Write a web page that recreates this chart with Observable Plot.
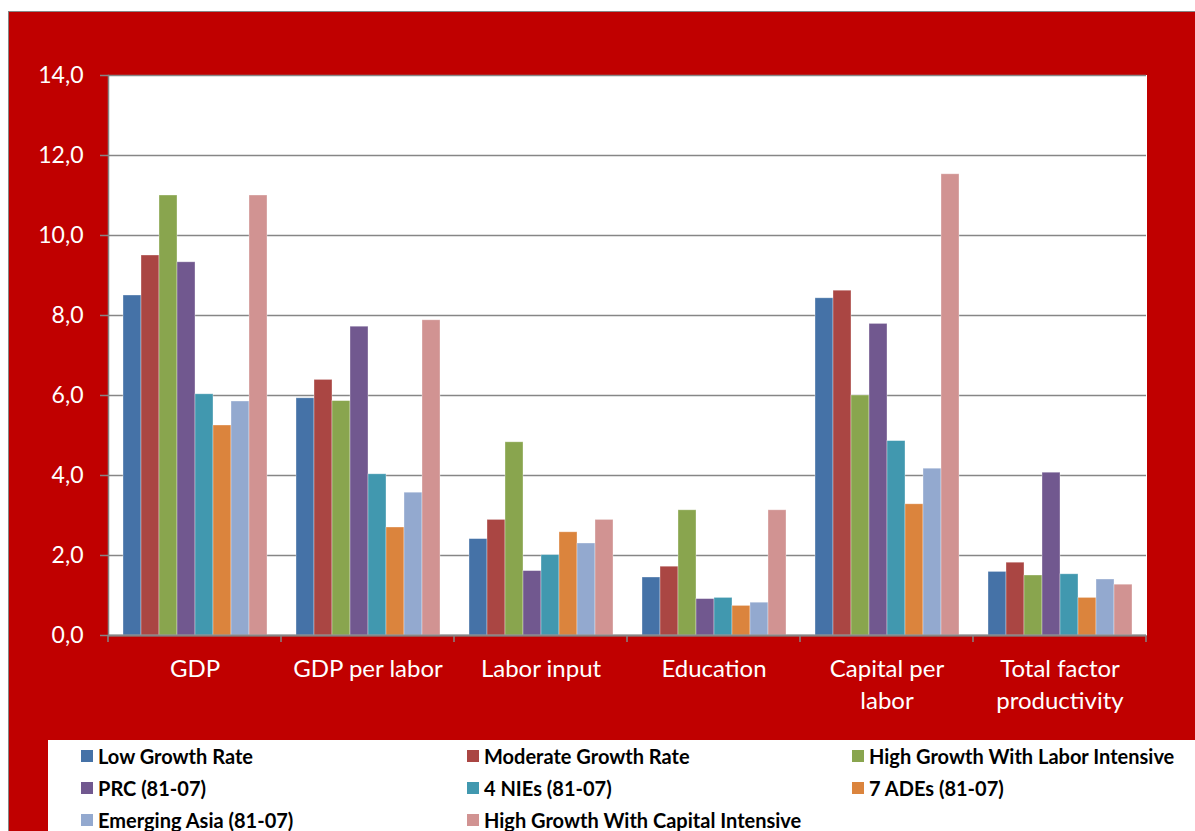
<!DOCTYPE html>
<html>
<head>
<meta charset="utf-8">
<script src="https://cdn.jsdelivr.net/npm/d3@7"></script>
<script src="https://cdn.jsdelivr.net/npm/@observablehq/plot@0.6"></script>
<style>
  body { margin: 0; background: #fff; font-family: Lato, sans-serif; }
  #page { position: relative; width: 1195px; height: 831px; overflow: hidden; background: #fff; }
  #panel { position: absolute; left: 8px; top: 11px; width: 1200px; height: 830px; background: #C00000;
           border-left: 1.5px solid #868686; border-top: 1.5px solid #868686; }
  #chart { position: absolute; left: 0; top: 0; }
  #legend { position: absolute; left: 48px; top: 740px; width: 1160px; height: 100px; background: #fff; }
  .item { position: absolute; font-weight: bold; font-size: 20px; color: #000; display: flex;
          align-items: center; white-space: nowrap; height: 24px; line-height: 24px; }
  .item i { display: inline-block; width: 12px; height: 12px; margin-right: 5px; }
</style>
</head>
<body>
<div id="page">
  <div id="panel"></div>
  <div id="chart"></div>
  <div id="legend"></div>
</div>
<script>
// Growth components by country group (average annual %, comma decimals)
const categories = ["GDP", "GDP per labor", "Labor input", "Education", "Capital per labor", "Total factor productivity"];
const categoryLabels = ["GDP", "GDP per labor", "Labor input", "Education", "Capital per\nlabor", "Total factor\nproductivity"];

const series = [
  "Low Growth Rate",
  "Moderate Growth Rate",
  "High Growth With Labor Intensive",
  "PRC (81-07)",
  "4 NIEs (81-07)",
  "7 ADEs (81-07)",
  "Emerging Asia (81-07)",
  "High Growth With Capital Intensive"
];
const colors = ["#4572A7", "#AA4643", "#89A54E", "#71588F", "#4198AF", "#DB843D", "#93A9CF", "#D19392"];

// one array per series, in category order
const lowGrowth        = [8.5,  5.93, 2.41, 1.45, 8.43, 1.59];
const moderateGrowth   = [9.5,  6.39, 2.89, 1.72, 8.62, 1.82];
const highLabor        = [11.0, 5.86, 4.83, 3.13, 6.0,  1.5];
const prc              = [9.33, 7.72, 1.61, 0.91, 7.79, 4.07];
const nies             = [6.03, 4.03, 2.01, 0.94, 4.86, 1.53];
const ades             = [5.25, 2.7,  2.58, 0.74, 3.28, 0.94];
const emergingAsia     = [5.85, 3.57, 2.3,  0.82, 4.17, 1.4];
const highCapital      = [11.0, 7.88, 2.89, 3.13, 11.53, 1.27];

const yTicks = [0, 2, 4, 6, 8, 10, 12, 14];

const seriesValues = [lowGrowth, moderateGrowth, highLabor, prc, nies, ades, emergingAsia, highCapital];
const rows = [];
categories.forEach((c, i) => {
  series.forEach((s, j) => rows.push({category: c, series: s, value: seriesValues[j][i]}));
});

const labelOf = new Map(categories.map((c, i) => [c, categoryLabels[i]]));
const gray = "#868686";

const chart = Plot.plot({
  width: 1195,
  height: 740,
  marginLeft: 107,
  marginRight: 49,
  marginTop: 75,
  marginBottom: 105,
  style: {background: "transparent", fontFamily: "Lato, sans-serif", fontSize: "22px", overflow: "visible"},
  fx: {domain: categories, padding: 0, axis: null, label: null},
  x: {domain: series, paddingInner: 0, paddingOuter: 0.74, axis: null},
  y: {domain: [0, 14], axis: null, label: null},
  color: {domain: series, range: colors},
  marks: [
    Plot.frame({fill: "white", stroke: "white", strokeWidth: 1}),
    Plot.gridY(yTicks, {stroke: gray, strokeOpacity: 1, strokeWidth: 1.5}),
    Plot.barY(rows, {fx: "category", x: "series", y: "value", fill: "series",
                     stroke: "white", strokeOpacity: 0.45, strokeWidth: 0.75}),
    Plot.ruleY([0], {stroke: gray, strokeWidth: 2}),
    Plot.frame({anchor: "left", facetAnchor: "left", stroke: gray, strokeWidth: 1.5}),
    Plot.axisY(yTicks, {tickSize: 8, tickPadding: 17, stroke: gray, strokeWidth: 1.5,
                        fill: "white", fontSize: 23, label: null,
                        tickFormat: d => d.toFixed(1).replace(".", ",")}),
    Plot.axisFx({anchor: "bottom", tickSize: 0, tickPadding: 19, fill: "white", fontSize: 24,
                 lineHeight: 1.34, label: null, tickFormat: c => labelOf.get(c)})
  ]
});
document.getElementById("chart").appendChild(chart);

// category boundary ticks below the baseline, placed from the fx band scale
const fx = chart.scale("fx");
const y = chart.scale("y");
const base = y.apply(0);
const edges = categories.map(c => fx.apply(c));
edges.push(fx.apply(categories[categories.length - 1]) + fx.bandwidth);
d3.select(chart).append("g")
  .attr("stroke", gray).attr("stroke-width", 1.5)
  .selectAll("line").data(edges).join("line")
  .attr("x1", d => d).attr("x2", d => d)
  .attr("y1", base).attr("y2", base + 7);

// legend: three columns, three rows
const legend = document.getElementById("legend");
const colX = [81, 467, 852];
const rowY = [756, 788, 820];
series.forEach((s, i) => {
  const el = document.createElement("div");
  el.className = "item";
  el.style.left = (colX[i % 3] - 48) + "px";
  el.style.top = (rowY[Math.floor(i / 3)] - 740 - 12) + "px";
  el.innerHTML = `<i style="background:${colors[i]}"></i><span></span>`;
  el.querySelector("span").textContent = s;
  legend.appendChild(el);
});
</script>
</body>
</html>
